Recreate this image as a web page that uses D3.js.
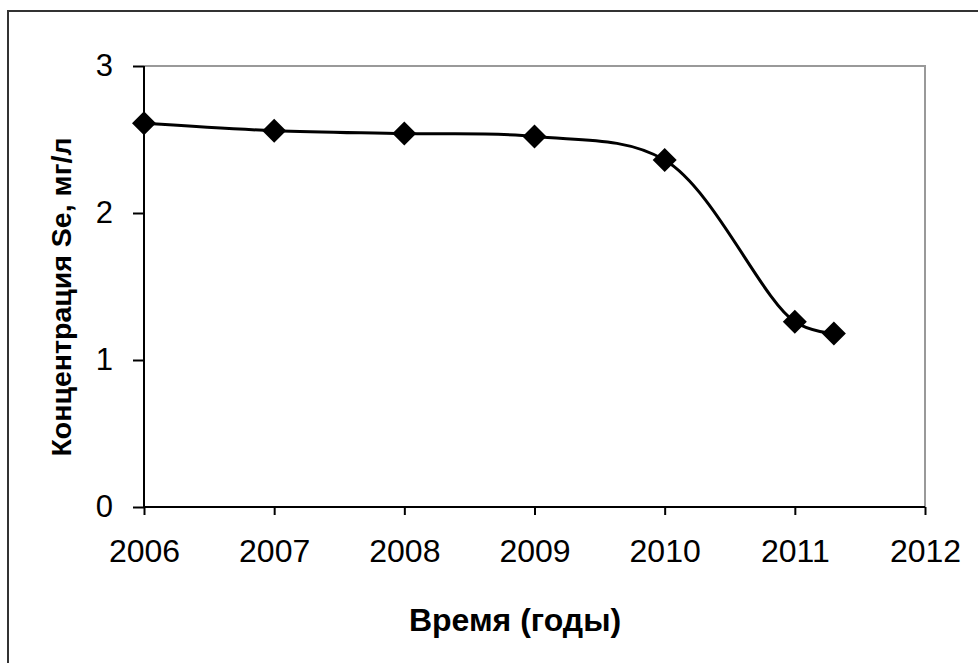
<!DOCTYPE html>
<html lang="ru">
<head>
    <meta charset="UTF-8">
    <title>Концентрация Se</title>
    <script src="https://d3js.org/d3.v7.min.js"></script>
    <style>
        body { margin: 0; background: #fff; font-family: "Liberation Sans", Arial, sans-serif; }
        svg { display: block; }
        .tick text { font-family: "Liberation Sans", Arial, sans-serif; fill: #000; }
    </style>
</head>
<body>
    <svg width="978" height="663"></svg>

    <script>
        // данные
        const years = [2006, 2007, 2008, 2009, 2010, 2011, 2011.3];
        const seConc = [2.61, 2.56, 2.54, 2.52, 2.36, 1.26, 1.18];
        const xTicks = [2006, 2007, 2008, 2009, 2010, 2011, 2012];
        const yTicks = [0, 1, 2, 3];

        const data = years.map((t, i) => ({ t: t, v: seConc[i] }));

        const svg = d3.select("svg"),
              margin = {top: 66, right: 53, bottom: 156, left: 144},
              width = +svg.attr("width") - margin.left - margin.right,
              height = +svg.attr("height") - margin.top - margin.bottom;

        // внешняя рамка диаграммы
        svg.append("rect")
            .attr("x", 8).attr("y", 11)
            .attr("width", 990).attr("height", 680)
            .attr("fill", "none")
            .attr("stroke", "#333")
            .attr("stroke-width", 2);

        const g = svg.append("g").attr("transform", `translate(${margin.left},${margin.top})`);

        const x = d3.scaleLinear().domain([2006, 2012]).range([0, width]);
        const y = d3.scaleLinear().domain([0, 3]).range([height, 0]);

        // серая рамка области построения (верх и право)
        g.append("path")
            .attr("d", `M0,0H${width}V${height}`)
            .attr("fill", "none")
            .attr("stroke", "#999")
            .attr("stroke-width", 2);

        // ось X
        const xAxis = g.append("g")
            .attr("transform", `translate(0,${height})`)
            .call(d3.axisBottom(x).tickValues(xTicks).tickFormat(d3.format("d")).tickSize(8).tickPadding(24));
        xAxis.select(".domain").attr("stroke", "#000").attr("stroke-width", 2).attr("d", `M0,0H${width}`);
        xAxis.selectAll(".tick line").attr("stroke", "#000").attr("stroke-width", 2);
        xAxis.selectAll(".tick text").attr("font-size", "32px");

        // ось Y
        const yAxis = g.append("g")
            .call(d3.axisLeft(y).tickValues(yTicks).tickFormat(d3.format("d")).tickSize(11).tickPadding(20));
        yAxis.select(".domain").attr("stroke", "#000").attr("stroke-width", 2).attr("d", `M0,0V${height}`);
        yAxis.selectAll(".tick line").attr("stroke", "#000").attr("stroke-width", 2);
        yAxis.selectAll(".tick text").attr("font-size", "31px");

        // сглаженная линия
        const line = d3.line()
            .x(d => x(d.t))
            .y(d => y(d.v))
            .curve(d3.curveCatmullRom.alpha(0.5));

        g.append("path")
            .datum(data)
            .attr("d", line)
            .attr("fill", "none")
            .attr("stroke", "#000")
            .attr("stroke-width", 3);

        // маркеры-ромбы
        g.selectAll(".marker")
            .data(data)
            .enter().append("path")
            .attr("class", "marker")
            .attr("transform", d => `translate(${x(d.t)},${y(d.v)})`)
            .attr("d", "M0,-12L12,0L0,12L-12,0Z")
            .attr("fill", "#000");

        // подписи осей
        svg.append("text")
            .attr("x", 515).attr("y", 631)
            .attr("text-anchor", "middle")
            .attr("font-size", "32px")
            .attr("font-weight", "bold")
            .text("Время (годы)");

        svg.append("text")
            .attr("transform", "translate(71,297) rotate(-90)")
            .attr("text-anchor", "middle")
            .attr("font-size", "28.5px")
            .attr("font-weight", "bold")
            .text("Концентрация Se, мг/л");
    </script>
</body>
</html>
